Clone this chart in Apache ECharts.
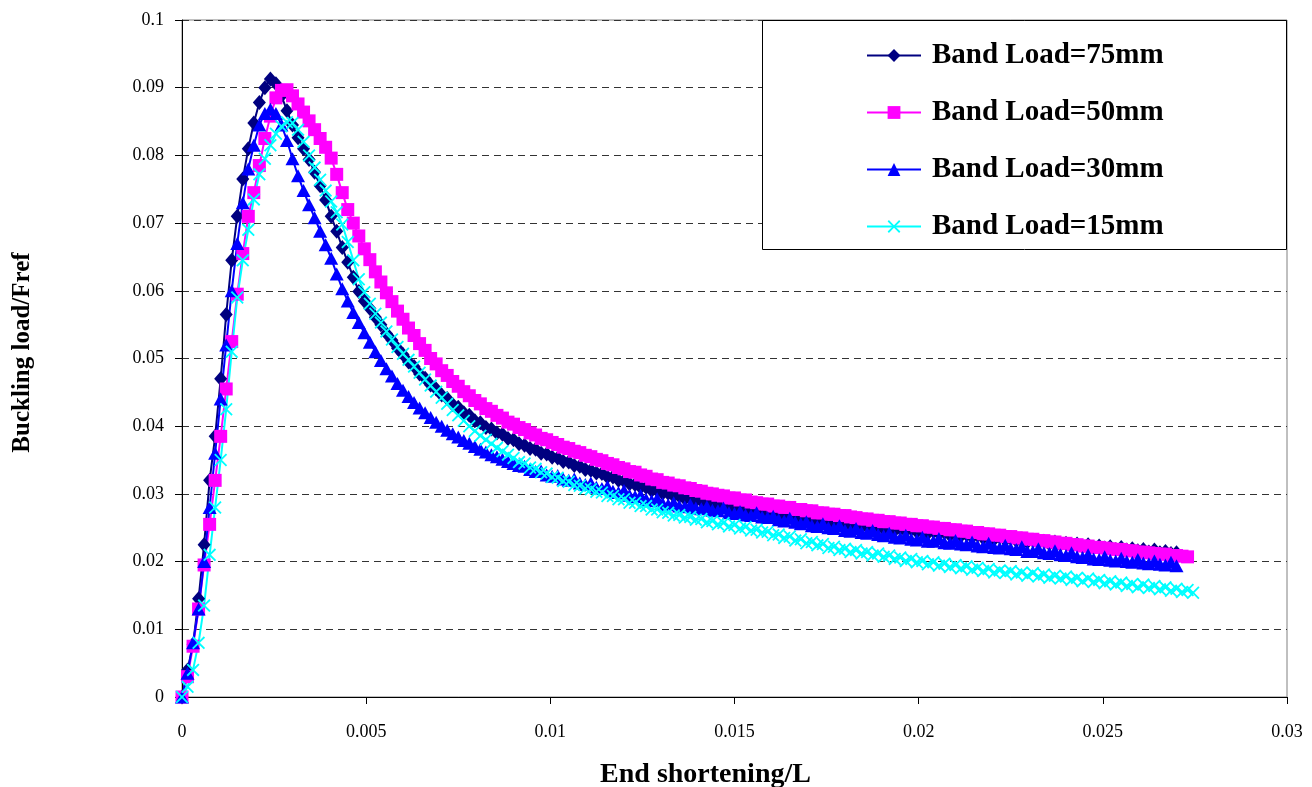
<!DOCTYPE html>
<html>
<head>
<meta charset="utf-8">
<title>Buckling load vs end shortening</title>
<script src="https://cdn.jsdelivr.net/npm/echarts@6/dist/echarts.min.js"></script>
<style>
  html, body { margin: 0; padding: 0; background: #fff; }
  #chart { width: 1312px; height: 787px; }
</style>
</head>
<body>
<div id="chart"></div>
<script>
// End shortening / L (shared increments for all load cases)
const shortening = [
  0, 0.00015, 0.0003, 0.00045, 0.0006, 0.00075, 0.0009, 0.00105, 0.0012, 0.00135,
  0.0015, 0.00165, 0.0018, 0.00195, 0.0021, 0.00225, 0.0024, 0.00255, 0.0027, 0.00285,
  0.003, 0.00315, 0.0033, 0.00345, 0.0036, 0.00375, 0.0039, 0.00405, 0.0042, 0.00435,
  0.0045, 0.00465, 0.0048, 0.00495, 0.0051, 0.00525, 0.0054, 0.00555, 0.0057, 0.00585,
  0.006, 0.00615, 0.0063, 0.00645, 0.0066, 0.00675, 0.0069, 0.00705, 0.0072, 0.00735,
  0.0075, 0.00765, 0.0078, 0.00795, 0.0081, 0.00825, 0.0084, 0.00855, 0.0087, 0.00885,
  0.009, 0.00915, 0.0093, 0.00945, 0.0096, 0.00975, 0.0099, 0.01005, 0.0102, 0.01035,
  0.0105, 0.01065, 0.0108, 0.01095, 0.0111, 0.01125, 0.0114, 0.01155, 0.0117, 0.01185,
  0.012, 0.01215, 0.0123, 0.01245, 0.0126, 0.01275, 0.0129, 0.01305, 0.0132, 0.01335,
  0.0135, 0.01365, 0.0138, 0.01395, 0.0141, 0.01425, 0.0144, 0.01455, 0.0147, 0.01485,
  0.015, 0.01515, 0.0153, 0.01545, 0.0156, 0.01575, 0.0159, 0.01605, 0.0162, 0.01635,
  0.0165, 0.01665, 0.0168, 0.01695, 0.0171, 0.01725, 0.0174, 0.01755, 0.0177, 0.01785,
  0.018, 0.01815, 0.0183, 0.01845, 0.0186, 0.01875, 0.0189, 0.01905, 0.0192, 0.01935,
  0.0195, 0.01965, 0.0198, 0.01995, 0.0201, 0.02025, 0.0204, 0.02055, 0.0207, 0.02085,
  0.021, 0.02115, 0.0213, 0.02145, 0.0216, 0.02175, 0.0219, 0.02205, 0.0222, 0.02235,
  0.0225, 0.02265, 0.0228, 0.02295, 0.0231, 0.02325, 0.0234, 0.02355, 0.0237, 0.02385,
  0.024, 0.02415, 0.0243, 0.02445, 0.0246, 0.02475, 0.0249, 0.02505, 0.0252, 0.02535,
  0.0255, 0.02565, 0.0258, 0.02595, 0.0261, 0.02625, 0.0264, 0.02655, 0.0267, 0.02685,
  0.027, 0.02715, 0.0273, 0.02745
];

// Buckling load / Fref, band load 75 mm
const load75 = [
  0, 0.0040, 0.0078, 0.0145, 0.0225, 0.0320, 0.0385, 0.0470, 0.0565, 0.0645,
  0.0710, 0.0765, 0.0810, 0.0848, 0.0878, 0.0900, 0.0913, 0.0906, 0.0888, 0.0866,
  0.0845, 0.0826, 0.0810, 0.0794, 0.0775, 0.0755, 0.0734, 0.0710, 0.0688, 0.0664,
  0.0642, 0.0620, 0.0599, 0.0585, 0.0574, 0.0561, 0.0550, 0.0537, 0.0527, 0.0515,
  0.0506, 0.0495, 0.0488, 0.0477, 0.0471, 0.0461, 0.0455, 0.0446, 0.0441, 0.0432,
  0.0428, 0.0420, 0.0416, 0.0408, 0.0405, 0.0398, 0.0396, 0.0390, 0.0388, 0.0382,
  0.0380, 0.0374, 0.0372, 0.0367, 0.0366, 0.0360, 0.0359, 0.0354, 0.0353, 0.0348,
  0.0347, 0.0342, 0.0341, 0.0336, 0.0335, 0.0331, 0.0330, 0.0325, 0.0325, 0.0320,
  0.0319, 0.0315, 0.0314, 0.0310, 0.0310, 0.0305, 0.0305, 0.0301, 0.0301, 0.0297,
  0.0297, 0.0293, 0.0293, 0.0290, 0.0290, 0.0286, 0.0286, 0.0283, 0.0283, 0.0280,
  0.0280, 0.0277, 0.0277, 0.0274, 0.0275, 0.0271, 0.0272, 0.0269, 0.0269, 0.0266,
  0.0267, 0.0263, 0.0264, 0.0261, 0.0262, 0.0258, 0.0260, 0.0256, 0.0258, 0.0254,
  0.0257, 0.0253, 0.0255, 0.0251, 0.0253, 0.0250, 0.0252, 0.0248, 0.0251, 0.0246,
  0.0249, 0.0245, 0.0248, 0.0244, 0.0246, 0.0242, 0.0245, 0.0241, 0.0243, 0.0239,
  0.0242, 0.0238, 0.0240, 0.0236, 0.0239, 0.0235, 0.0237, 0.0233, 0.0236, 0.0232,
  0.0234, 0.0231, 0.0233, 0.0229, 0.0231, 0.0228, 0.0230, 0.0226, 0.0229, 0.0225,
  0.0227, 0.0224, 0.0226, 0.0222, 0.0225, 0.0221, 0.0223, 0.0220, 0.0222, 0.0218,
  0.0221, 0.0217, 0.0219, 0.0216, 0.0218, 0.0214, 0.0217, 0.0213, 0.0215, 0.0212,
  0.0213
];

// Buckling load / Fref, band load 50 mm
const load50 = [
  0, 0.0030, 0.0075, 0.0130, 0.0195, 0.0255, 0.0320, 0.0385, 0.0455, 0.0525,
  0.0595, 0.0655, 0.0710, 0.0745, 0.0785, 0.0825, 0.0858, 0.0885, 0.0896, 0.0897,
  0.0888, 0.0876, 0.0864, 0.0851, 0.0838, 0.0825, 0.0812, 0.0796, 0.0772, 0.0745,
  0.0720, 0.0700, 0.0681, 0.0662, 0.0646, 0.0628, 0.0613, 0.0597, 0.0584, 0.0570,
  0.0558, 0.0545, 0.0534, 0.0522, 0.0512, 0.0500, 0.0492, 0.0482, 0.0475, 0.0466,
  0.0459, 0.0451, 0.0445, 0.0438, 0.0433, 0.0426, 0.0422, 0.0416, 0.0412, 0.0406,
  0.0403, 0.0398, 0.0395, 0.0390, 0.0387, 0.0382, 0.0380, 0.0376, 0.0373, 0.0369,
  0.0367, 0.0363, 0.0361, 0.0357, 0.0355, 0.0351, 0.0349, 0.0345, 0.0343, 0.0339,
  0.0337, 0.0333, 0.0332, 0.0328, 0.0326, 0.0322, 0.0321, 0.0317, 0.0316, 0.0313,
  0.0312, 0.0309, 0.0308, 0.0305, 0.0304, 0.0301, 0.0300, 0.0298, 0.0297, 0.0294,
  0.0294, 0.0291, 0.0291, 0.0288, 0.0287, 0.0285, 0.0285, 0.0282, 0.0282, 0.0280,
  0.0280, 0.0277, 0.0277, 0.0275, 0.0275, 0.0272, 0.0272, 0.0270, 0.0270, 0.0268,
  0.0268, 0.0266, 0.0265, 0.0263, 0.0263, 0.0261, 0.0261, 0.0259, 0.0259, 0.0257,
  0.0257, 0.0255, 0.0255, 0.0253, 0.0253, 0.0251, 0.0251, 0.0249, 0.0249, 0.0247,
  0.0247, 0.0245, 0.0245, 0.0243, 0.0243, 0.0241, 0.0241, 0.0239, 0.0239, 0.0237,
  0.0237, 0.0235, 0.0235, 0.0233, 0.0233, 0.0231, 0.0231, 0.0229, 0.0229, 0.0227,
  0.0227, 0.0225, 0.0225, 0.0223, 0.0223, 0.0221, 0.0221, 0.0220, 0.0219, 0.0218,
  0.0218, 0.0216, 0.0216, 0.0214, 0.0214, 0.0213, 0.0212, 0.0211, 0.0211, 0.0209,
  0.0209, 0.0208, 0.0207
];

// Buckling load / Fref, band load 30 mm
const load30 = [
  0, 0.0035, 0.0080, 0.0130, 0.0200, 0.0280, 0.0360, 0.0440, 0.0520, 0.0600,
  0.0670, 0.0730, 0.0780, 0.0815, 0.0845, 0.0862, 0.0868, 0.0862, 0.0845, 0.0822,
  0.0795, 0.0770, 0.0748, 0.0727, 0.0708, 0.0688, 0.0668, 0.0648, 0.0625, 0.0603,
  0.0585, 0.0568, 0.0553, 0.0538, 0.0524, 0.0510, 0.0497, 0.0485, 0.0474, 0.0463,
  0.0453, 0.0444, 0.0435, 0.0427, 0.0420, 0.0413, 0.0406, 0.0400, 0.0394, 0.0389,
  0.0384, 0.0379, 0.0375, 0.0370, 0.0366, 0.0362, 0.0358, 0.0355, 0.0351, 0.0348,
  0.0345, 0.0342, 0.0341, 0.0336, 0.0333, 0.0334, 0.0328, 0.0326, 0.0327, 0.0322,
  0.0320, 0.0322, 0.0316, 0.0314, 0.0316, 0.0310, 0.0308, 0.0311, 0.0304, 0.0302,
  0.0305, 0.0298, 0.0296, 0.0298, 0.0292, 0.0290, 0.0293, 0.0286, 0.0284, 0.0287,
  0.0282, 0.0281, 0.0284, 0.0279, 0.0278, 0.0281, 0.0276, 0.0275, 0.0279, 0.0272,
  0.0271, 0.0274, 0.0269, 0.0268, 0.0272, 0.0266, 0.0265, 0.0267, 0.0262, 0.0260,
  0.0264, 0.0258, 0.0256, 0.0259, 0.0253, 0.0252, 0.0256, 0.0250, 0.0249, 0.0253,
  0.0246, 0.0245, 0.0249, 0.0243, 0.0242, 0.0246, 0.0240, 0.0238, 0.0242, 0.0236,
  0.0235, 0.0239, 0.0233, 0.0232, 0.0236, 0.0230, 0.0230, 0.0234, 0.0228, 0.0227,
  0.0231, 0.0226, 0.0225, 0.0229, 0.0223, 0.0222, 0.0227, 0.0221, 0.0220, 0.0224,
  0.0219, 0.0218, 0.0222, 0.0215, 0.0215, 0.0219, 0.0213, 0.0212, 0.0216, 0.0210,
  0.0209, 0.0213, 0.0207, 0.0206, 0.0210, 0.0204, 0.0203, 0.0207, 0.0202, 0.0201,
  0.0205, 0.0200, 0.0199, 0.0203, 0.0198, 0.0197, 0.0201, 0.0196, 0.0195, 0.0199,
  0.0194
];

// Buckling load / Fref, band load 15 mm
const load15 = [
  0, 0.0015, 0.0040, 0.0080, 0.0135, 0.0210, 0.0280, 0.0350, 0.0425, 0.0510,
  0.0590, 0.0645, 0.0690, 0.0735, 0.0772, 0.0795, 0.0815, 0.0832, 0.0843, 0.0849,
  0.0848, 0.0838, 0.0820, 0.0800, 0.0782, 0.0764, 0.0748, 0.0732, 0.0716, 0.0698,
  0.0672, 0.0645, 0.0617, 0.0598, 0.0581, 0.0566, 0.0553, 0.0540, 0.0528, 0.0517,
  0.0507, 0.0498, 0.0488, 0.0479, 0.0469, 0.0460, 0.0451, 0.0442, 0.0433, 0.0424,
  0.0416, 0.0408, 0.0400, 0.0393, 0.0386, 0.0380, 0.0374, 0.0368, 0.0363, 0.0358,
  0.0353, 0.0347, 0.0345, 0.0339, 0.0337, 0.0332, 0.0330, 0.0325, 0.0324, 0.0319,
  0.0318, 0.0313, 0.0312, 0.0308, 0.0307, 0.0303, 0.0302, 0.0297, 0.0297, 0.0292,
  0.0292, 0.0287, 0.0287, 0.0282, 0.0282, 0.0277, 0.0277, 0.0273, 0.0272, 0.0268,
  0.0269, 0.0265, 0.0266, 0.0262, 0.0263, 0.0258, 0.0260, 0.0255, 0.0257, 0.0252,
  0.0254, 0.0249, 0.0251, 0.0246, 0.0247, 0.0243, 0.0244, 0.0239, 0.0240, 0.0235,
  0.0237, 0.0231, 0.0233, 0.0227, 0.0229, 0.0224, 0.0226, 0.0220, 0.0222, 0.0217,
  0.0219, 0.0214, 0.0217, 0.0212, 0.0214, 0.0209, 0.0212, 0.0207, 0.0209, 0.0204,
  0.0206, 0.0201, 0.0204, 0.0199, 0.0201, 0.0196, 0.0199, 0.0194, 0.0197, 0.0192,
  0.0195, 0.0190, 0.0193, 0.0188, 0.0191, 0.0186, 0.0189, 0.0184, 0.0187, 0.0183,
  0.0186, 0.0181, 0.0184, 0.0179, 0.0183, 0.0178, 0.0181, 0.0176, 0.0179, 0.0175,
  0.0178, 0.0173, 0.0176, 0.0171, 0.0175, 0.0170, 0.0173, 0.0168, 0.0171, 0.0166,
  0.0169, 0.0164, 0.0167, 0.0162, 0.0166, 0.0161, 0.0164, 0.0159, 0.0162, 0.0157,
  0.0160, 0.0155, 0.0158, 0.0154
];

const seriesNames = ['Band Load=75mm', 'Band Load=50mm', 'Band Load=30mm', 'Band Load=15mm'];
const xTickLabels = ['0', '0.005', '0.01', '0.015', '0.02', '0.025', '0.03'];
const yTickLabels = ['0', '0.01', '0.02', '0.03', '0.04', '0.05', '0.06', '0.07', '0.08', '0.09', '0.1'];

const serif = '"Liberation Serif", "Times New Roman", serif';
const crossPath = 'path://M0,1 L1,0 L5,4 L9,0 L10,1 L6,5 L10,9 L9,10 L5,6 L1,10 L0,9 L4,5 Z';

function pairs(ys) {
  return ys.map((y, i) => [shortening[i], y]);
}

function lineSeries(name, ys, color, symbol, size) {
  return {
    name: name,
    type: 'line',
    data: pairs(ys),
    symbol: symbol,
    symbolSize: size,
    showSymbol: true,
    showAllSymbol: true,
    animation: false,
    color: color,
    lineStyle: { color: color, width: 2 },
    itemStyle: { color: color, borderWidth: 0 },
    emphasis: { disabled: true }
  };
}

const chart = echarts.init(document.getElementById('chart'), null, { renderer: 'canvas' });

chart.setOption({
  backgroundColor: '#ffffff',
  animation: false,
  grid: {
    left: 182, right: 25, top: 20, bottom: 90,
    containLabel: false,
    outerBoundsMode: 'none',
    show: true, borderColor: '#808080', borderWidth: 1, backgroundColor: 'transparent'
  },
  xAxis: {
    type: 'value',
    min: 0, max: 0.03, interval: 0.005,
    name: 'End shortening/L',
    nameLocation: 'middle',
    nameGap: 64,
    nameTextStyle: {
      fontFamily: serif, fontSize: 28, fontWeight: 'bold', color: '#000',
      padding: [0, 58, 0, 0]
    },
    axisLine: { show: true, onZero: false, lineStyle: { color: '#000', width: 1 } },
    axisTick: { show: true, inside: false, length: 7, lineStyle: { color: '#000' } },
    axisLabel: {
      fontFamily: serif, fontSize: 18, color: '#000', margin: 26,
      formatter: (v) => xTickLabels[Math.round(v / 0.005)]
    },
    splitLine: { show: false }
  },
  yAxis: {
    type: 'value',
    min: 0, max: 0.1, interval: 0.01,
    name: 'Buckling load/Fref',
    nameLocation: 'middle',
    nameRotate: 90,
    nameGap: 147,
    nameTextStyle: {
      fontFamily: serif, fontSize: 25, fontWeight: 'bold', color: '#000',
      padding: [0, 0, 0, 12]
    },
    axisLine: { show: true, lineStyle: { color: '#000', width: 1 } },
    axisTick: { show: true, inside: false, length: 7, lineStyle: { color: '#000' } },
    axisLabel: {
      fontFamily: serif, fontSize: 18, color: '#000', margin: 18,
      formatter: (v) => yTickLabels[Math.round(v / 0.01)]
    },
    splitLine: { show: true, lineStyle: { color: '#333', width: 1, type: [7, 5] } }
  },
  graphic: [{
    type: 'rect',
    z: 5,
    shape: { x: 762.5, y: 20.5, width: 524, height: 229 },
    style: { fill: '#ffffff', stroke: '#000000', lineWidth: 1 }
  }],
  legend: {
    z: 10,
    orient: 'vertical',
    left: 866,
    top: 41,
    padding: 0,
    itemWidth: 54,
    itemHeight: 16,
    itemGap: 28,
    selectedMode: false,
    data: seriesNames,
    textStyle: { fontFamily: serif, fontSize: 29, fontWeight: 'bold', color: '#000', padding: [0, 0, 0, 6] }
  },
  series: [
    lineSeries(seriesNames[0], load75, '#000080', 'diamond', [13, 15]),
    lineSeries(seriesNames[1], load50, '#ff00ff', 'rect', 13),
    lineSeries(seriesNames[2], load30, '#0000ff', 'triangle', [14, 13]),
    lineSeries(seriesNames[3], load15, '#00ffff', crossPath, 13)
  ]
});
</script>
</body>
</html>
